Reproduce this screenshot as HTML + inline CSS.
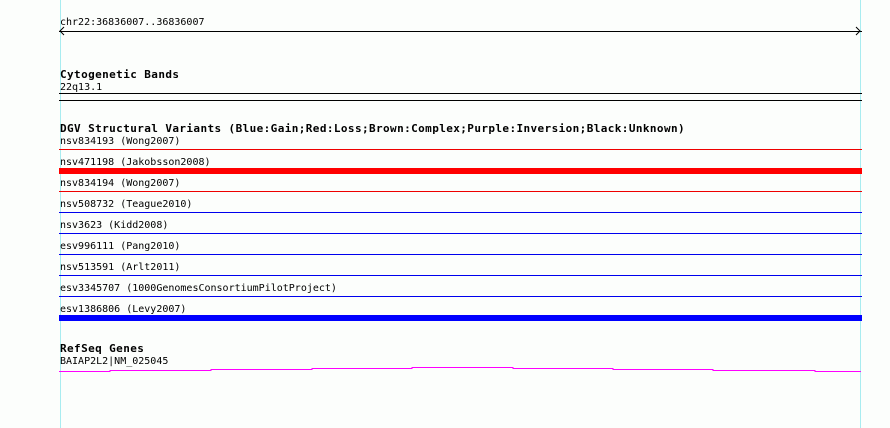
<!DOCTYPE html>
<html><head><style>
body{margin:0;background:#fcfefc;width:890px;height:428px;position:relative;overflow:hidden;font-family:"DejaVu Sans Mono","Liberation Mono",monospace;font-size:10px;color:#000}
.a{position:absolute}
.t{position:absolute;left:60px;line-height:11px;white-space:nowrap;letter-spacing:0px;margin-top:2px}
.b{font-weight:bold;font-size:11px;letter-spacing:0.4px;margin-top:1px}
.h{position:absolute;left:59px;width:803px}
</style></head><body>
<div class="a" style="left:60px;top:0;width:1px;height:428px;background:#a8ecf0"></div>
<div class="a" style="left:860px;top:0;width:1px;height:428px;background:#a8ecf0"></div>
<div class="t" style="top:15px">chr22:36836007..36836007</div>
<div class="h" style="top:31px;height:1px;background:#000"></div>
<svg class="a" style="left:59px;top:26px" width="804" height="11"><polyline points="5,1 1,5 5,9" fill="none" stroke="#000"/><polyline points="797,1 801,5 797,9" fill="none" stroke="#000"/></svg>
<div class="t b" style="top:68px">Cytogenetic Bands</div>
<div class="t" style="top:80px">22q13.1</div>
<div class="h" style="top:93px;height:1px;background:#000"></div>
<div class="h" style="top:100px;height:1px;background:#000"></div>
<div class="t b" style="top:122px">DGV Structural Variants (Blue:Gain;Red:Loss;Brown:Complex;Purple:Inversion;Black:Unknown)</div>
<div class="t" style="top:134px">nsv834193 (Wong2007)</div>
<div class="h" style="top:149px;height:1px;background:#e00"></div>
<div class="t" style="top:155px">nsv471198 (Jakobsson2008)</div>
<div class="h" style="top:168px;height:6px;background:#f00"></div>
<div class="t" style="top:176px">nsv834194 (Wong2007)</div>
<div class="h" style="top:191px;height:1px;background:#e00"></div>
<div class="t" style="top:197px">nsv508732 (Teague2010)</div>
<div class="h" style="top:212px;height:1px;background:#00e"></div>
<div class="t" style="top:218px">nsv3623 (Kidd2008)</div>
<div class="h" style="top:233px;height:1px;background:#00e"></div>
<div class="t" style="top:239px">esv996111 (Pang2010)</div>
<div class="h" style="top:254px;height:1px;background:#00e"></div>
<div class="t" style="top:260px">nsv513591 (Arlt2011)</div>
<div class="h" style="top:275px;height:1px;background:#00e"></div>
<div class="t" style="top:281px">esv3345707 (1000GenomesConsortiumPilotProject)</div>
<div class="h" style="top:296px;height:1px;background:#00e"></div>
<div class="t" style="top:302px">esv1386806 (Levy2007)</div>
<div class="h" style="top:315px;height:6px;background:#00f"></div>
<div class="t b" style="top:342px">RefSeq Genes</div>
<div class="t" style="top:354px">BAIAP2L2|NM_025045</div>
<svg class="a" style="left:0;top:360px" width="890" height="20"><polyline points="59,11.5 110,11.5 110,10.5 211,10.5 211,9.5 312,9.5 312,8.5 412,8.5 412,7.5 513,7.5 513,8.5 613,8.5 613,9.5 713,9.5 713,10.5 815,10.5 815,11.5 861,11.5" fill="none" stroke="#f0f" stroke-width="1"/></svg>
</body></html>
